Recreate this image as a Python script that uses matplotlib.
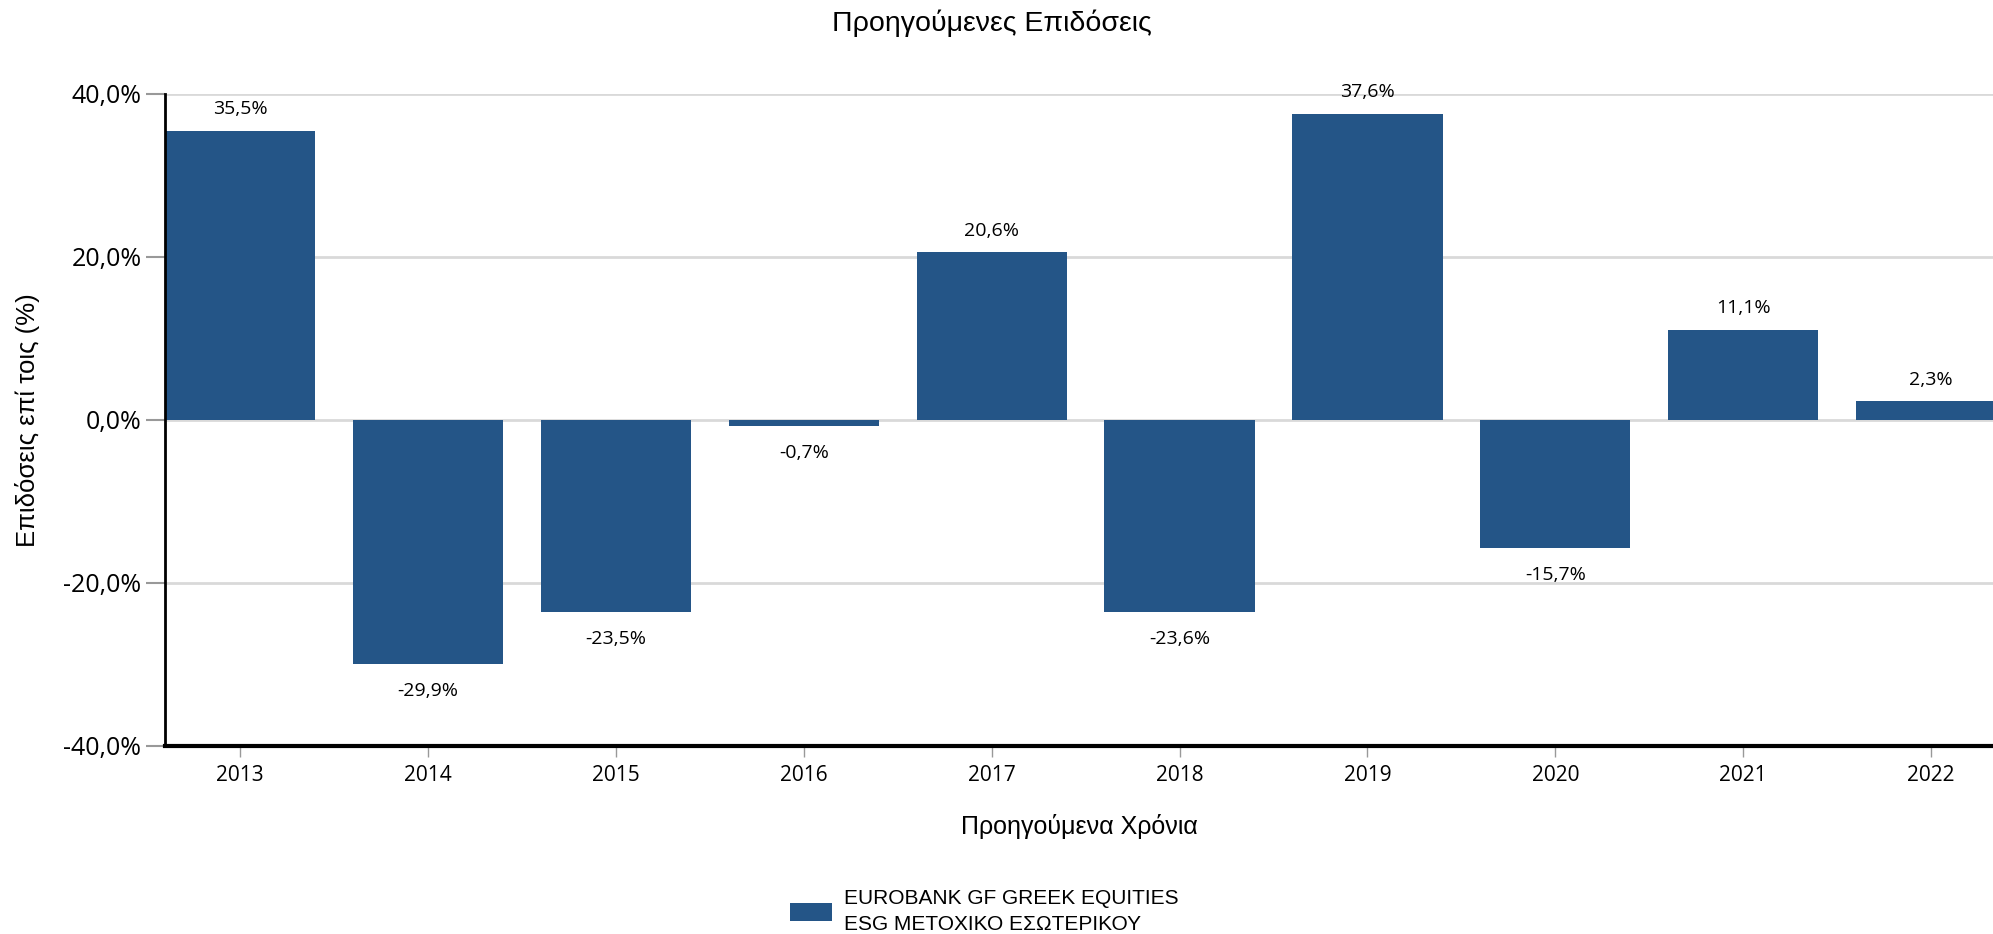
import matplotlib
matplotlib.use('Agg')
import matplotlib.pyplot as plt
import numpy as np

years = ['2013', '2014', '2015', '2016', '2017', '2018', '2019', '2020', '2021', '2022']
returns = [35.5, -29.9, -23.5, -0.7, 20.6, -23.6, 37.6, -15.7, 11.1, 2.3]
yticks = [-40, -20, 0, 20, 40]
series_name = 'EUROBANK GF GREEK EQUITIES\nESG ΜΕΤΟΧΙΚΟ ΕΣΩΤΕΡΙΚΟΥ'

bar_color = '#245587'
arial = 'Liberation Sans'
segoe = 'Open Sans'

fig = plt.figure(figsize=(19.93, 9.34), dpi=100)
ax = fig.add_axes([0.0828, 0.2013, 0.9172, 0.6981])

x = np.arange(len(years))
bars = ax.bar(x, returns, width=0.8, color=bar_color, zorder=3, label=series_name)

ax.set_xlim(-0.4, 9.33)
ax.set_ylim(-40, 40)

# gridlines
ax.set_yticks(yticks)
ax.set_yticklabels([f'{v:.1f}%'.replace('.', ',') for v in yticks],
                   fontfamily=segoe, fontsize=18)
ax.yaxis.grid(True, color='#d9d9d9', linewidth=2, zorder=0)
ax.tick_params(axis='y', length=14, width=1.5, color='#999999', pad=3)

ax.set_xticks(x)
ax.set_xticklabels(years, fontfamily=segoe, fontsize=15)
ax.tick_params(axis='x', length=8, width=1, color='#999999', pad=6)

for side in ['top', 'right']:
    ax.spines[side].set_visible(False)
ax.spines['left'].set_linewidth(2)
ax.spines['bottom'].set_linewidth(3)
ax.spines['left'].set_zorder(4)
ax.spines['bottom'].set_zorder(4)

# value labels
for xi, v in zip(x, returns):
    txt = f'{v:.1f}%'.replace('.', ',')
    if v >= 0:
        ax.annotate(txt, (xi, v), xytext=(0, 9), textcoords='offset points',
                    ha='center', va='bottom', fontsize=14, fontfamily=segoe)
    else:
        ax.annotate(txt, (xi, v), xytext=(0, -13), textcoords='offset points',
                    ha='center', va='top', fontsize=14, fontfamily=segoe)

fig.text(0.4975, 0.975, 'Προηγούμενες Επιδόσεις', ha='center', va='center',
         fontsize=20.5, fontfamily=arial)
ax.set_ylabel('Επιδόσεις επί τοις (%)', fontsize=18.5, fontfamily=arial, labelpad=17)
ax.set_xlabel('Προηγούμενα Χρόνια', fontsize=18, fontfamily=arial, labelpad=20)

leg = fig.legend(loc='center left', bbox_to_anchor=(0.387, 0.024), frameon=False,
                 prop={'family': arial, 'size': 15}, handlelength=2.0, handleheight=1.0,
                 handletextpad=0.6)
for t in leg.get_texts():
    t.set_linespacing(1.45)

plt.savefig('out.png', dpi=100)
plt.close()
